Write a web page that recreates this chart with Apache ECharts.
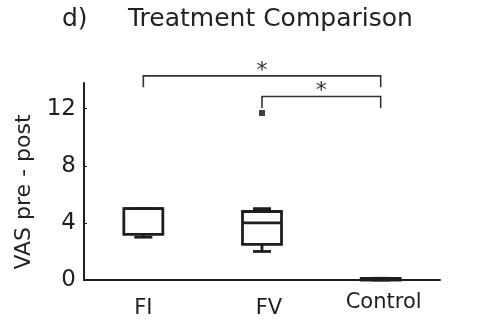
<!DOCTYPE html>
<html>
<head>
<meta charset="utf-8">
<script src="https://cdn.jsdelivr.net/npm/echarts@6/dist/echarts.min.js"></script>
<style>html,body{margin:0;padding:0;background:#fff}#c{width:498px;height:328px}</style>
</head>
<body>
<div id="c"></div>
<script>
// ---- data ----
const categories = ['FI', 'FV', 'Control'];
const boxMin    = [3.0, 2.0, 0.0];
const boxQ1     = [3.2, 2.5, 0.0];
const boxMedian = [5.0, 4.0, 0.06];
const boxQ3     = [5.0, 4.8, 0.12];
const boxMax    = [5.0, 5.0, 0.12];
const outlierCat = [1];
const outlierVal = [11.7];
const bracketFrom = [0, 1];
const bracketTo   = [2, 2];
const bracketY    = [14.3, 12.85];
const bracketLow  = [13.5, 12.05];
const bracketMark = ['*', '*'];
const yTicks = [0, 4, 8, 12];

const FONT = '"DejaVu Sans", sans-serif';
const INK = '#1e1e1e';

const chart = echarts.init(document.getElementById('c'), null, {renderer: 'canvas'});

function renderBox(params, api) {
  const i = api.value(0);
  const lo = api.coord([i, api.value(1)]);
  const q1 = api.coord([i, api.value(2)]);
  const md = api.coord([i, api.value(3)]);
  const q3 = api.coord([i, api.value(4)]);
  const hi = api.coord([i, api.value(5)]);
  const x = lo[0];
  const hw = 19.5, cw = 9;
  const st = {stroke: INK, lineWidth: 2.8, fill: null};
  const ch = [];
  ch.push({type: 'line', shape: {x1: x, y1: q1[1], x2: x, y2: lo[1]}, style: st});
  ch.push({type: 'line', shape: {x1: x - cw, y1: lo[1], x2: x + cw, y2: lo[1]}, style: st});
  ch.push({type: 'line', shape: {x1: x, y1: q3[1], x2: x, y2: hi[1]}, style: st});
  ch.push({type: 'line', shape: {x1: x - cw, y1: hi[1], x2: x + cw, y2: hi[1]}, style: st});
  ch.push({type: 'rect', shape: {x: x - hw, y: q3[1], width: 2 * hw, height: Math.max(q1[1] - q3[1], 0.5)}, style: {stroke: INK, lineWidth: 2.8, fill: '#fff'}});
  ch.push({type: 'line', shape: {x1: x - hw, y1: md[1], x2: x + hw, y2: md[1]}, style: st});
  return {type: 'group', children: ch};
}

function renderBracket(params, api) {
  const a = api.value(0), b = api.value(1), y = api.value(2), low = api.value(3);
  const p1 = api.coord([a, low]);
  const p2 = api.coord([a, y]);
  const p3 = api.coord([b, y]);
  const p4 = api.coord([b, low]);
  const mark = bracketMark[params.dataIndex];
  return {
    type: 'group',
    children: [
      {type: 'polyline', shape: {points: [p1, p2, p3, p4]}, style: {stroke: '#333', lineWidth: 1.6, fill: null}},
      {type: 'text', style: {text: mark, x: (p2[0] + p3[0]) / 2, y: p2[1] + 6, font: '22px ' + FONT, fill: '#333', align: 'center', verticalAlign: 'bottom', textAlign: 'center', textVerticalAlign: 'bottom'}}
    ]
  };
}

const boxData = categories.map((c, i) => [i, boxMin[i], boxQ1[i], boxMedian[i], boxQ3[i], boxMax[i]]);
const outlierData = outlierCat.map((c, i) => [c, outlierVal[i]]);
const bracketData = bracketFrom.map((f, i) => [f, bracketTo[i], bracketY[i], bracketLow[i]]);

const option = {
  animation: false,
  backgroundColor: '#fff',
  grid: {left: 84, right: 58, top: 83, bottom: 48},
  xAxis: {
    type: 'category',
    data: categories,
    axisLine: {lineStyle: {color: INK, width: 2}},
    axisTick: {show: false},
    axisLabel: {
      margin: 12,
      formatter: v => v === 'Control' ? '{c|' + v + '}' : (v === 'FV' ? '{v|' + v + '}' : '{n|' + v + '}'),
      rich: {
        n: {fontSize: 21, fontFamily: FONT, color: INK, lineHeight: 34},
        v: {fontSize: 21, fontFamily: FONT, color: INK, lineHeight: 34, padding: [0, 0, 0, 14]},
        c: {fontSize: 21, fontFamily: FONT, color: INK, lineHeight: 22, padding: [0, 0, 0, 6]}
      }
    },
    splitLine: {show: false}
  },
  yAxis: {
    type: 'value',
    min: 0, max: 13.8, interval: 4,
    axisLine: {show: true, lineStyle: {color: INK, width: 2}},
    axisTick: {show: true, inside: true, length: 3, lineStyle: {color: INK, width: 1}, customValues: yTicks},
    axisLabel: {fontSize: 23, fontFamily: FONT, color: INK, margin: 8, customValues: yTicks},
    splitLine: {show: false}
  },
  graphic: [
    {type: 'text', style: {text: 'd)', x: 62, y: 19, font: '25px ' + FONT, fill: '#222', verticalAlign: 'middle', textVerticalAlign: 'middle'}},
    {type: 'text', style: {text: 'Treatment Comparison', x: 128, y: 19, font: '25px ' + FONT, fill: '#222', verticalAlign: 'middle', textVerticalAlign: 'middle'}},
    {type: 'text', x: 24, y: 192, rotation: Math.PI / 2, style: {text: 'VAS pre - post', x: 0, y: 0, font: '22px ' + FONT, fill: '#222', align: 'center', verticalAlign: 'middle', textAlign: 'center', textVerticalAlign: 'middle'}}
  ],
  series: [
    {type: 'custom', renderItem: renderBox, data: boxData, encode: {x: 0, y: [1, 2, 3, 4, 5]}, z: 3},
    {type: 'scatter', data: outlierData, symbol: 'rect', symbolSize: 6, itemStyle: {color: '#111'}, z: 4},
    {type: 'custom', renderItem: renderBracket, data: bracketData, encode: {x: [0, 1], y: [2, 3]}, clip: false, z: 5}
  ]
};
chart.setOption(option);
</script>
</body>
</html>
